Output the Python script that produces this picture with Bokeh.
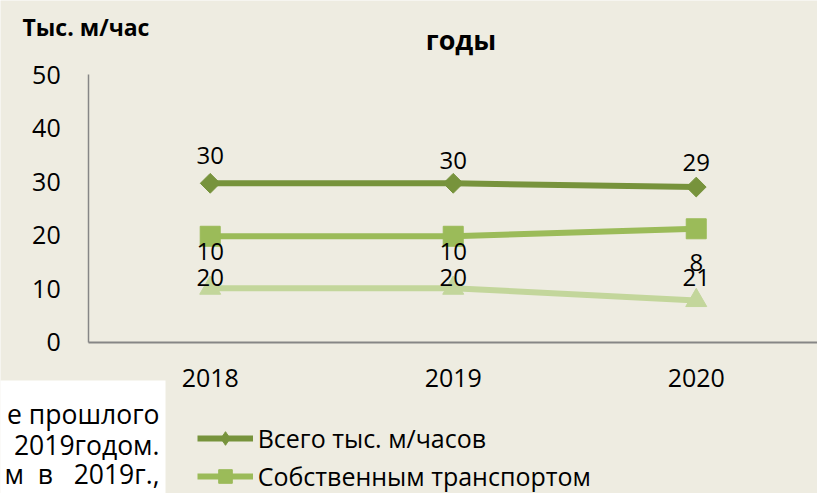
import math
from bokeh.plotting import figure
from bokeh.models import (Range1d, FixedTicker, Legend, LegendItem, Label,
                          LabelSet, ColumnDataSource, BoxAnnotation)
from bokeh.core.properties import value
from bokeh.embed import file_html
from bokeh.resources import INLINE

# ---------------- data ----------------
years = ["2018", "2019", "2020"]
total = [29.7, 29.7, 29.0]          # Всего тыс. м/часов
own = [19.8, 19.8, 21.2]            # Собственным транспортом
third = [10.1, 10.1, 7.8]           # третья серия (легенда обрезана)
series_names = ["Всего тыс. м/часов", "Собственным транспортом"]
y_ticks = [0, 10, 20, 30, 40, 50]
unit_label = "Тыс. м/час"
title_tail = "годы"
NB = "\u00a0"
body_lines = ["е прошлого", "2019годом.", "м" + NB * 2 + "в" + NB * 3 + "2019г.,"]

# label offsets in px (positive = up)
total_dy = [28, 23, 25]
own_dy = [-41, -41, -49]
third_dy = [37, 37, 38]

# ---------------- style ----------------
BG = "#EEECE1"
C1 = "#77933C"
C2 = "#9BBB59"
C3 = "#C3D69B"
AX = "#868686"
FONT = "Open Sans"
FS = "25px"

W, H = 817, 493
xs = list(range(len(years)))
p = figure(width=W, height=H, output_backend="svg", toolbar_location=None,
           x_range=Range1d(-0.863, 2.499), y_range=Range1d(-28.28, 63.87),
           min_border_left=0, min_border_right=0, min_border_top=0, min_border_bottom=0,
           background_fill_color=BG, border_fill_color=BG, outline_line_color=None)

p.xgrid.grid_line_color = None
p.ygrid.grid_line_color = None

p.yaxis.ticker = FixedTicker(ticks=y_ticks)
p.xaxis.ticker = FixedTicker(ticks=xs)
p.xaxis.major_label_overrides = {i: y for i, y in zip(xs, years)}
p.yaxis.fixed_location = -0.5
p.xaxis.fixed_location = 0
p.yaxis.bounds = (y_ticks[0], y_ticks[-1])
p.xaxis.bounds = (-0.5, 2.5)
for ax in (p.xaxis[0], p.yaxis[0]):
    ax.axis_line_color = AX
    ax.major_tick_line_color = None
    ax.minor_tick_line_color = None
    ax.major_tick_out = 0
    ax.major_tick_in = 0
    ax.minor_tick_out = 0
    ax.minor_tick_in = 0
    ax.major_label_text_font = FONT
    ax.major_label_text_font_size = FS
    ax.major_label_text_color = "black"
p.yaxis.axis_line_width = 1.5
p.xaxis.axis_line_width = 2
p.yaxis.major_label_standoff = 28
p.xaxis.major_label_standoff = 27

src = ColumnDataSource(dict(
    x=xs, total=total, own=own, third=third,
    total_lbl=[f"{v:.0f}" for v in total],
    own_lbl=[f"{v:.0f}" for v in own],
    third_lbl=[f"{v:.0f}" for v in third],
    total_dy=total_dy, own_dy=own_dy, third_dy=third_dy,
))

l3 = p.line("x", "third", source=src, line_width=6, line_color=C3)
s3 = p.scatter("x", "third", source=src, marker="triangle", size=21,
               fill_color=C3, line_color=C3)
l2 = p.line("x", "own", source=src, line_width=6, line_color=C2)
s2 = p.scatter("x", "own", source=src, marker="square", size=20,
               fill_color=C2, line_color=C2)
l1 = p.line("x", "total", source=src, line_width=6, line_color=C1)
s1 = p.scatter("x", "total", source=src, marker="square", angle=math.pi / 4, size=14,
               fill_color=C1, line_color=C1)
# legend-only proxy (diamond glyph, hidden in the plot)
proxy = p.scatter("x", "total", source=src, marker="diamond", size=14,
                  fill_color=C1, line_color=C1, visible=False)

for col, lbl, dy in (("total", "total_lbl", "total_dy"),
                     ("own", "own_lbl", "own_dy"),
                     ("third", "third_lbl", "third_dy")):
    p.add_layout(LabelSet(x="x", y=col, text=lbl, y_offset=dy, source=src,
                          text_align="center", text_baseline="middle",
                          text_font=value(FONT), text_font_size=value("24px"),
                          text_color="black"))

# header texts (screen px, y measured up from the bottom)
p.add_layout(Label(x=22, y=H - 26.5, x_units="screen", y_units="screen", text=unit_label,
                   text_font=FONT, text_font_size="23px", text_font_style="bold",
                   text_baseline="alphabetic", text_align="left", text_color="black"))
p.add_layout(Label(x=460.5, y=H - 39, x_units="screen", y_units="screen", text=title_tail,
                   text_font=FONT, text_font_size="27px", text_font_style="bold",
                   text_baseline="alphabetic", text_align="center", text_color="black"))

# overlapping document text box at bottom-left
p.add_layout(BoxAnnotation(left=-5, right=165, top=H - 380, bottom=-10,
                           left_units="screen", right_units="screen",
                           top_units="screen", bottom_units="screen",
                           fill_color="white", fill_alpha=1, line_color=None))
for txt, yy in zip(body_lines, [413, 444, 473]):
    p.add_layout(Label(x=159, y=H - yy, x_units="screen", y_units="screen", text=txt,
                       text_font=FONT, text_font_size="26.5px", text_align="right",
                       text_baseline="alphabetic", text_color="black"))

legend = Legend(items=[LegendItem(label=series_names[0], renderers=[l1, proxy]),
                       LegendItem(label=series_names[1], renderers=[l2, s2])],
                location=(196.7, 0), orientation="vertical",
                label_text_font=FONT, label_text_font_size=FS, label_text_color="black",
                label_standoff=5, glyph_width=56, glyph_height=34, label_height=34,
                spacing=4, padding=0, margin=0, border_line_color=None,
                background_fill_alpha=0, inactive_fill_alpha=0)
p.add_layout(legend)

open("out.html", "w").write(file_html(p, INLINE))
